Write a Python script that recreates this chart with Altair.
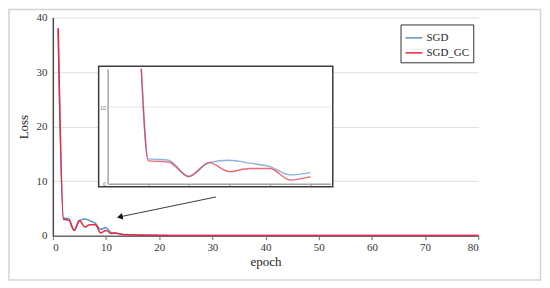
import altair as alt
import pandas as pd

# ---------------- data ----------------
epochs = list(range(1, 81))
sgd = [38.0, 3.25, 3.1, 0.95, 2.77, 3.07, 2.7, 2.25, 1.17, 1.47,
       0.55, 0.45, 0.28, 0.2, 0.15, 0.12, 0.1, 0.08, 0.07, 0.06,
       0.06, 0.05, 0.05, 0.05, 0.04, 0.04, 0.04, 0.04, 0.03, 0.03,
       0.03, 0.03, 0.03, 0.03, 0.03, 0.02, 0.02, 0.02, 0.02, 0.02,
       0.02, 0.02, 0.02, 0.02, 0.02, 0.02, 0.02, 0.02, 0.02, 0.02,
       0.02, 0.02, 0.02, 0.02, 0.02, 0.02, 0.01, 0.01, 0.01, 0.01,
       0.01, 0.01, 0.01, 0.01, 0.01, 0.01, 0.01, 0.01, 0.01, 0.01,
       0.01, 0.01, 0.01, 0.01, 0.01, 0.01, 0.01, 0.01, 0.01, 0.01]
sgd_gc = [38.0, 3.0, 2.85, 0.95, 2.77, 1.6, 2.0, 2.0, 0.5, 0.95,
          0.4, 0.45, 0.22, 0.15, 0.12, 0.1, 0.08, 0.07, 0.06, 0.05,
          0.05, 0.04, 0.04, 0.04, 0.03, 0.03, 0.03, 0.03, 0.03, 0.02,
          0.02, 0.02, 0.02, 0.02, 0.02, 0.02, 0.02, 0.02, 0.02, 0.02,
          0.02, 0.02, 0.02, 0.02, 0.02, 0.01, 0.01, 0.01, 0.01, 0.01,
          0.01, 0.01, 0.01, 0.01, 0.01, 0.01, 0.01, 0.01, 0.01, 0.01,
          0.01, 0.01, 0.01, 0.01, 0.01, 0.01, 0.01, 0.01, 0.01, 0.01,
          0.01, 0.01, 0.01, 0.01, 0.01, 0.01, 0.01, 0.01, 0.01, 0.01]
series_names = ["SGD", "SGD_GC"]
series_colors = ["#5b93cf", "#e8283c"]
x_ticks = [0, 10, 20, 30, 40, 50, 60, 70, 80]
y_ticks = [0, 10, 20, 30, 40]
inset_x_ticks = [2, 4, 6, 8, 10]
inset_y_ticks = [0, 10]
inset_max_epoch = 10
inset_y_top = 15
# arrow annotation (data units of the main chart): tail -> head
arrow_tail = (30.7, 7.1)
arrow_head = (12.6, 3.45)

df = pd.DataFrame({
    "epoch": epochs * 2,
    "loss": sgd + sgd_gc,
    "series": [series_names[0]] * len(epochs) + [series_names[1]] * len(epochs),
})

SERIF = "Liberation Serif"
W, H = 427, 219

color_scale = alt.Scale(domain=series_names, range=series_colors)

# ---------------- main chart ----------------
main_x = alt.X("epoch:Q", title="epoch",
               scale=alt.Scale(domain=[0, 80], nice=False),
               axis=alt.Axis(values=x_ticks, grid=False, labelFont=SERIF, labelFontSize=11,
                             labelColor="#333333", titleFont=SERIF, titleFontSize=13,
                             titleFontWeight="normal", titleColor="#262626", titlePadding=3,
                             domainColor="#6b6b6b", domainWidth=1.5, tickColor="#6b6b6b",
                             tickSize=4, labelPadding=2, format="d"))
main_y = alt.Y("loss:Q", title="Loss",
               scale=alt.Scale(domain=[0, 40], nice=False),
               axis=alt.Axis(values=y_ticks, grid=True, gridColor="#dedede", gridWidth=1,
                             labelFont=SERIF, labelFontSize=11, labelColor="#333333",
                             titleFont=SERIF, titleFontSize=13, titleFontWeight="normal",
                             titleColor="#262626", titlePadding=5, domainColor="#4a4a4a",
                             domainWidth=1.5, ticks=False, labelPadding=6, format="d"))

lines = alt.Chart(df).mark_line(strokeWidth=1.5, interpolate="monotone").encode(
    x=main_x, y=main_y,
    color=alt.Color("series:N", scale=color_scale,
                    legend=alt.Legend(title=None, orient="none", legendX=349, legendY=7,
                                      symbolType="stroke", symbolSize=289, symbolStrokeWidth=1.5,
                                      labelFont=SERIF, labelFontSize=11, labelColor="#262626",
                                      fillColor="white", strokeColor="#333333", padding=4,
                                      rowPadding=-1, labelOffset=3)),
    order=alt.Order("series:N"),
)

arrow_df = pd.DataFrame({"epoch": [arrow_tail[0]], "loss": [arrow_tail[1]],
                         "epoch2": [arrow_head[0]], "loss2": [arrow_head[1]]})
arrow_line = alt.Chart(arrow_df).mark_rule(color="#3a3a3a", strokeWidth=1).encode(
    x="epoch:Q", y="loss:Q", x2="epoch2:Q", y2="loss2:Q")
head_df = pd.DataFrame({"epoch": [arrow_head[0]], "loss": [arrow_head[1]]})
arrow_tip = alt.Chart(head_df).mark_point(shape="triangle-left", filled=True, size=45,
                                          color="#111111", opacity=1, angle=348).encode(
    x="epoch:Q", y="loss:Q")

main = alt.layer(lines, arrow_line, arrow_tip)

# ---------------- inset ----------------
frame = alt.Chart(alt.Data(values=[{}])).mark_rect(
    fill="white", stroke="#3c3c3c", strokeWidth=1.5).encode(
    x=alt.value(46), x2=alt.value(281), y=alt.value(49), y2=alt.value(170))

inset_xscale = alt.Scale(domain=[0, 11], range=[55, 279], nice=False)
inset_yscale = alt.Scale(domain=[0, inset_y_top], range=[167, 51.5], nice=False)

inset_lines = alt.Chart(df).transform_filter(
    f"datum.epoch <= {inset_max_epoch}"
).transform_window(
    next_loss="lead(loss)", groupby=["series"], sort=[alt.SortField("epoch")]
).transform_calculate(
    ix=f"datum.loss > {inset_y_top} ? datum.epoch + (datum.loss - {inset_y_top}) / (datum.loss - datum.next_loss) : datum.epoch",
    iy=f"min(datum.loss, {inset_y_top})",
).mark_line(strokeWidth=1.4, opacity=0.7, interpolate="monotone").encode(
    x=alt.X("ix:Q", scale=inset_xscale,
            axis=alt.Axis(orient="bottom", offset=-52, values=inset_x_ticks, labels=False,
                          tickSize=2, tickColor="#8a8a8a", grid=False, title=None,
                          domainColor="#a6a6a6", domainWidth=1.5, zindex=1)),
    y=alt.Y("iy:Q", scale=inset_yscale,
            axis=alt.Axis(orient="left", offset=-55, values=inset_y_ticks, grid=False,
                          title=None, ticks=False, labelFontSize=5.5, labelColor="#7a7a7a",
                          labelPadding=2, labelOverlap=False, labelBound=False,
                          domainColor="#a6a6a6", domainWidth=1.5, zindex=1)),
    color=alt.Color("series:N", scale=color_scale, legend=None),
    order=alt.Order("series:N"),
)

inset_grid = alt.Chart(alt.Data(values=[{}])).mark_rule(color="#e3e3e3", strokeWidth=1).encode(
    x=alt.X(datum=0, type="quantitative", scale=inset_xscale),
    x2=alt.X2(datum=11),
    y=alt.Y(datum=10, type="quantitative", scale=inset_yscale),
)

inset = alt.layer(inset_grid, inset_lines)

border = alt.Chart(alt.Data(values=[{}])).mark_rect(
    fillOpacity=0, stroke="#d4d4d4", strokeWidth=1.5).encode(
    x=alt.value(-44), x2=alt.value(489.5), y=alt.value(-8), y2=alt.value(263.5))

chart = alt.layer(border, main, frame, inset).resolve_scale(
    x="independent", y="independent"
).properties(
    width=W, height=H,
    autosize=alt.AutoSizeParams(type="none"),
    padding={"left": 45, "top": 9, "right": 64, "bottom": 46},
).configure_view(strokeWidth=0)

chart.save("out.html", embed_options={"renderer": "svg", "actions": False})
